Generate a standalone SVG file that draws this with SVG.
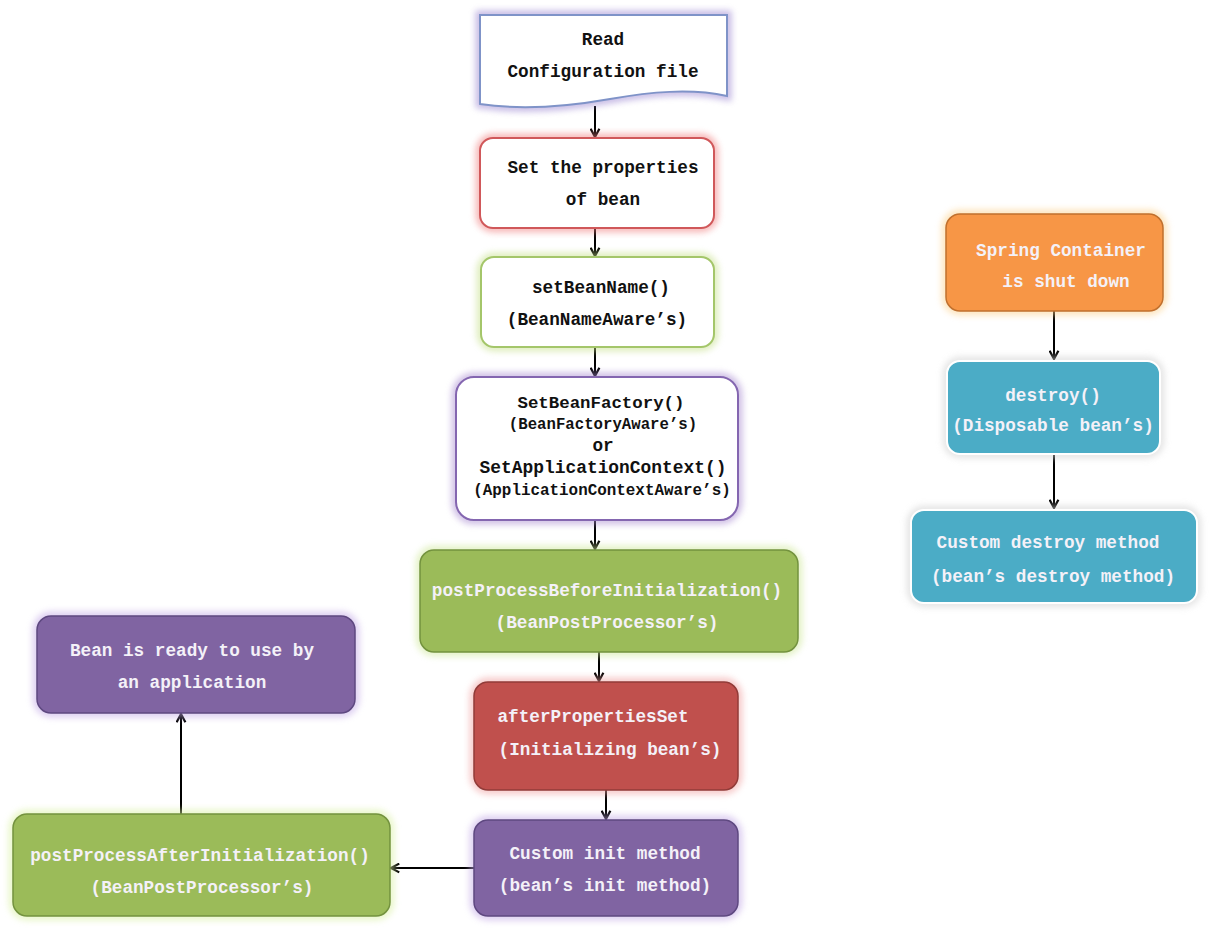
<svg xmlns="http://www.w3.org/2000/svg" width="1212" height="930" viewBox="0 0 1212 930">
<defs>
<style>
text{font-family:"Liberation Mono","Courier New",monospace;font-weight:bold;font-size:17.7px;text-anchor:middle}
.dk{fill:#111}
.lt{fill:#f4f1f8}
.glow{fill:none;stroke-width:9;opacity:0.55;filter:url(#blur)}
.conn{stroke:#000;stroke-width:2;fill:none;marker-end:url(#arr)}
</style>
<filter id="blur" x="-20%" y="-20%" width="140%" height="140%"><feGaussianBlur stdDeviation="3"/></filter>
<marker id="arr" viewBox="0 0 10 10" refX="9" refY="5" markerWidth="11" markerHeight="11" orient="auto" markerUnits="userSpaceOnUse">
<path d="M1.5,1 L9,5 L1.5,9" fill="none" stroke="#000" stroke-width="2"/>
</marker>
</defs>
<rect width="1212" height="930" fill="#fff"/>

<g id="connectors">
<line class="conn" x1="595" y1="106" x2="595" y2="137"/>
<line class="conn" x1="595" y1="228" x2="595" y2="256"/>
<line class="conn" x1="595" y1="347" x2="595" y2="376"/>
<line class="conn" x1="595" y1="520" x2="595" y2="549"/>
<line class="conn" x1="599" y1="652" x2="599" y2="681"/>
<line class="conn" x1="606" y1="790" x2="606" y2="819"/>
<line class="conn" x1="474" y1="868" x2="391" y2="868"/>
<line class="conn" x1="181" y1="814" x2="181" y2="714"/>
<line class="conn" x1="1054" y1="311" x2="1054" y2="359"/>
<line class="conn" x1="1054" y1="454" x2="1054" y2="508"/>
</g>

<g id="read-config">
<path class="glow" stroke="#9a84d0" d="M480,15 H727 V96 C690,88 650,92 610,99 C565,107 520,110 480,104 Z"/>
<path fill="#fff" stroke="#7f93c8" stroke-width="2" d="M480,15 H727 V96 C690,88 650,92 610,99 C565,107 520,110 480,104 Z"/>
<text class="dk" x="603" y="45">Read</text>
<text class="dk" x="603" y="77">Configuration file</text>
</g>

<g id="set-properties">
<rect class="glow" stroke="#f08080" x="480" y="138" width="234" height="90" rx="13"/>
<rect fill="#fff" stroke="#d0585a" stroke-width="2" x="480" y="138" width="234" height="90" rx="13"/>
<text class="dk" x="603" y="173">Set the properties</text>
<text class="dk" x="603" y="205">of bean</text>
</g>

<g id="set-bean-name">
<rect class="glow" stroke="#c6e08a" x="481" y="257" width="233" height="90" rx="13"/>
<rect fill="#fff" stroke="#a4c66a" stroke-width="2" x="481" y="257" width="233" height="90" rx="13"/>
<text class="dk" x="601" y="293">setBeanName()</text>
<text class="dk" x="597" y="325">(BeanNameAware’s)</text>
</g>

<g id="set-bean-factory">
<rect class="glow" stroke="#a88bd0" x="456" y="377" width="282" height="143" rx="18"/>
<rect fill="#fff" stroke="#8466b0" stroke-width="2" x="456" y="377" width="282" height="143" rx="18"/>
<text class="dk" x="601" y="408" style="font-size:17.4px">SetBeanFactory()</text>
<text class="dk" x="603" y="429" style="font-size:15.7px">(BeanFactoryAware’s)</text>
<text class="dk" x="603" y="451">or</text>
<text class="dk" x="603" y="473" style="font-size:17.9px">SetApplicationContext()</text>
<text class="dk" x="602" y="495" style="font-size:15.9px">(ApplicationContextAware’s)</text>
</g>

<g id="post-before">
<rect class="glow" stroke="#cfe89a" x="420" y="550" width="378" height="102" rx="14"/>
<rect fill="#9bbb59" stroke="#73923e" stroke-width="1.5" x="420" y="550" width="378" height="102" rx="14"/>
<text class="lt" x="607" y="596">postProcessBeforeInitialization()</text>
<text class="lt" x="607" y="628">(BeanPostProcessor’s)</text>
</g>

<g id="after-properties-set">
<rect class="glow" stroke="#f0a0a0" x="474" y="682" width="264" height="108" rx="14"/>
<rect fill="#c0504d" stroke="#913b38" stroke-width="1.5" x="474" y="682" width="264" height="108" rx="14"/>
<text class="lt" x="593" y="722">afterPropertiesSet</text>
<text class="lt" x="610" y="755">(Initializing bean’s)</text>
</g>

<g id="custom-init">
<rect class="glow" stroke="#c2a8e6" x="474" y="820" width="264" height="96" rx="14"/>
<rect fill="#8064a2" stroke="#5e4880" stroke-width="1.5" x="474" y="820" width="264" height="96" rx="14"/>
<text class="lt" x="605" y="859">Custom init method</text>
<text class="lt" x="605" y="891">(bean’s init method)</text>
</g>

<g id="post-after">
<rect class="glow" stroke="#d8f0a0" x="13" y="814" width="377" height="102" rx="14"/>
<rect fill="#9bbb59" stroke="#73923e" stroke-width="1.5" x="13" y="814" width="377" height="102" rx="14"/>
<text class="lt" x="200" y="861">postProcessAfterInitialization()</text>
<text class="lt" x="202" y="893">(BeanPostProcessor’s)</text>
</g>

<g id="bean-ready">
<rect class="glow" stroke="#c2a8e6" x="37" y="616" width="318" height="97" rx="14"/>
<rect fill="#8064a2" stroke="#5e4880" stroke-width="1.5" x="37" y="616" width="318" height="97" rx="14"/>
<text class="lt" x="192" y="656">Bean is ready to use by</text>
<text class="lt" x="192" y="688">an application</text>
</g>

<g id="container-shutdown">
<rect class="glow" stroke="#fcd08a" x="946" y="214" width="217" height="97" rx="14"/>
<rect fill="#f79646" stroke="#c0702e" stroke-width="1.5" x="946" y="214" width="217" height="97" rx="14"/>
<text class="lt" x="1061" y="256">Spring Container</text>
<text class="lt" x="1066" y="287">is shut down</text>
</g>

<g id="destroy">
<rect class="glow" stroke="#d0d0d0" x="947" y="361" width="213" height="93" rx="13"/>
<rect fill="#4bacc6" stroke="#fff" stroke-width="2" x="947" y="361" width="213" height="93" rx="13"/>
<text class="lt" x="1053" y="401">destroy()</text>
<text class="lt" x="1053" y="431">(Disposable bean’s)</text>
</g>

<g id="custom-destroy">
<rect class="glow" stroke="#d0d0d0" x="911" y="510" width="286" height="93" rx="13"/>
<rect fill="#4bacc6" stroke="#fff" stroke-width="2" x="911" y="510" width="286" height="93" rx="13"/>
<text class="lt" x="1048" y="548">Custom destroy method</text>
<text class="lt" x="1053" y="582">(bean’s destroy method)</text>
</g>
</svg>
